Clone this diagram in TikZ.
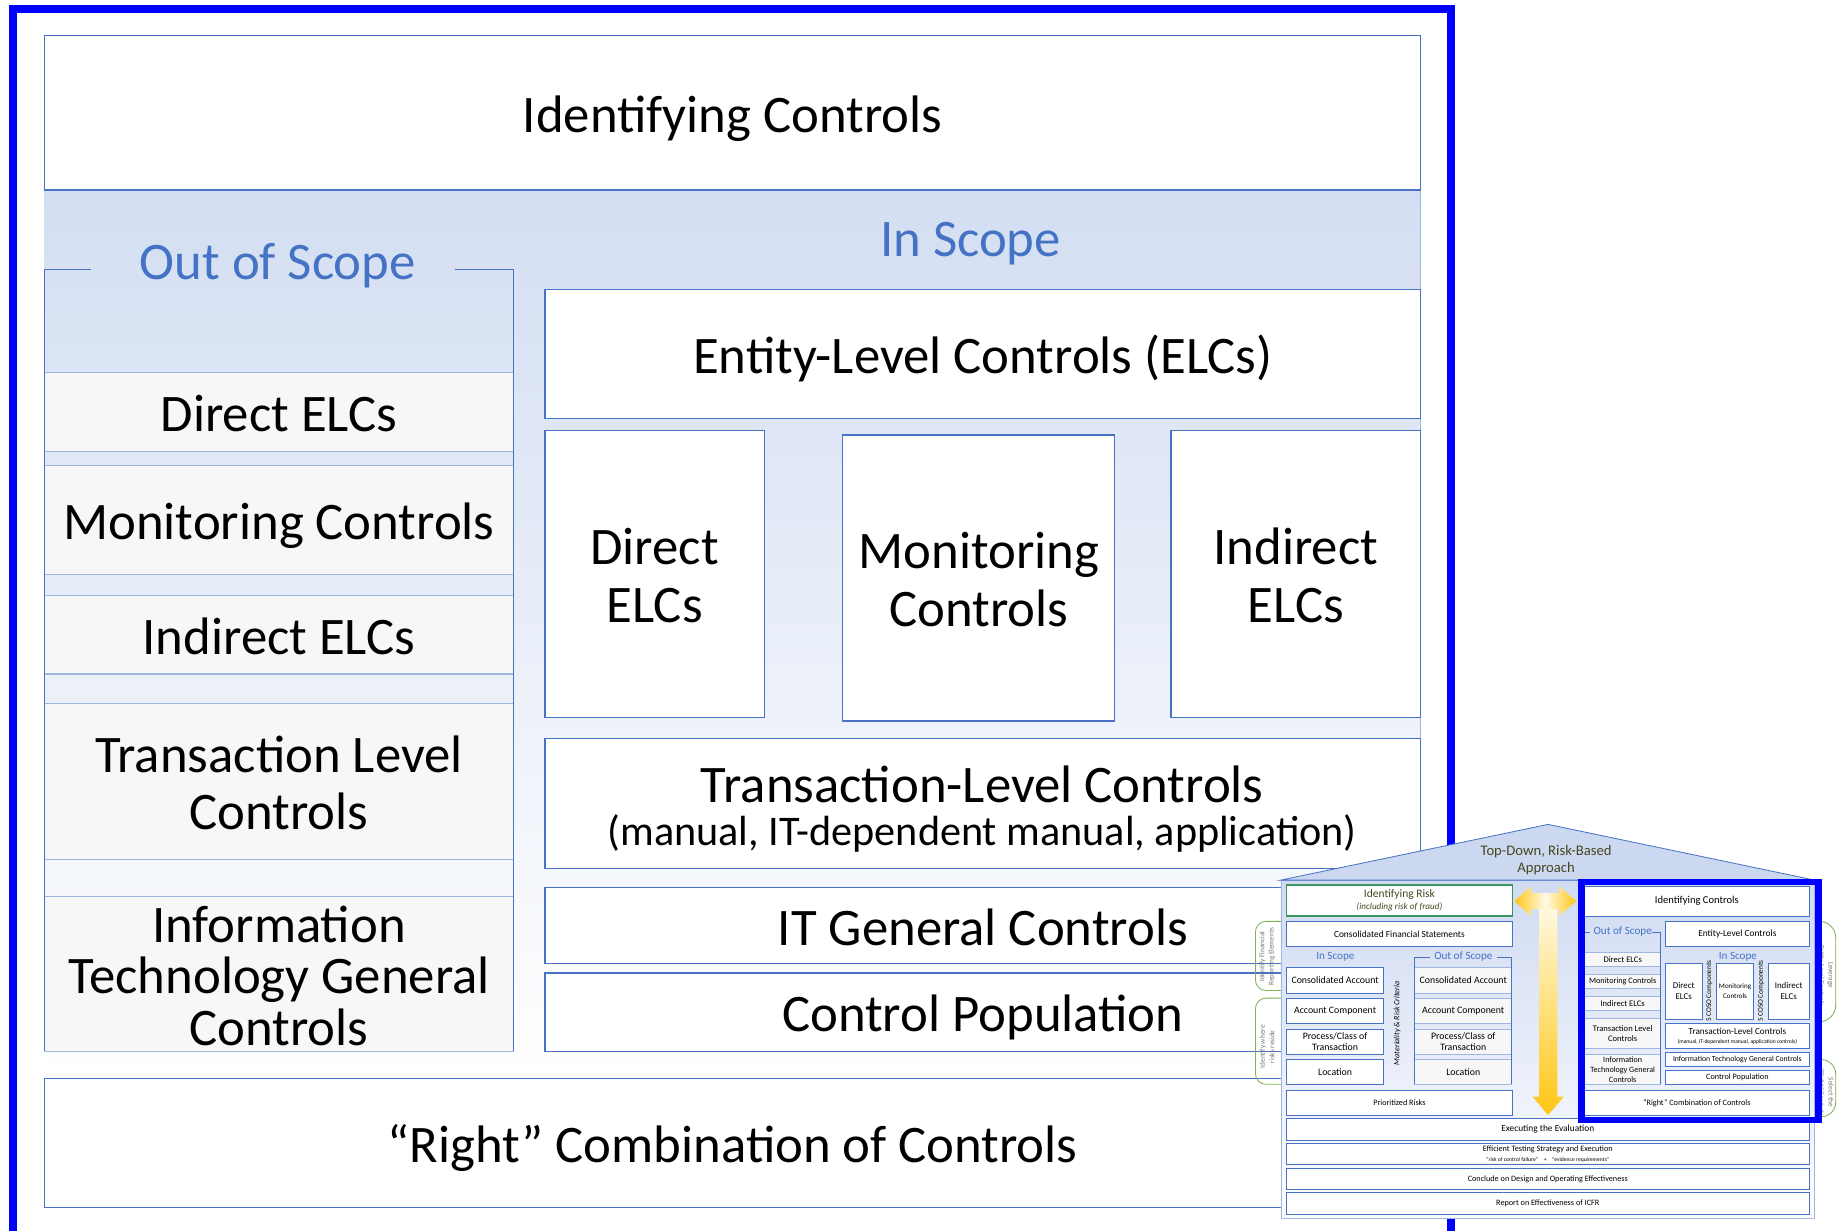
\documentclass[tikz,border=0pt]{standalone}
\usepackage{fontspec}
\setmainfont{Carlito}

\definecolor{frameblue}{RGB}{0,0,255}
\definecolor{edge}{RGB}{72,114,196}
\definecolor{edgelight}{RGB}{160,182,226}
\definecolor{band}{RGB}{211,222,242}
\definecolor{scopeblue}{RGB}{68,114,196}
\definecolor{outfill}{RGB}{247,247,247}
\definecolor{olive}{RGB}{72,70,32}
\definecolor{riskgreen}{RGB}{60,150,95}
\definecolor{bracketgreen}{RGB}{125,178,80}
\definecolor{gold}{RGB}{255,198,20}
\definecolor{pale}{RGB}{255,250,228}
\definecolor{roof}{RGB}{203,216,240}
\definecolor{housetop}{RGB}{208,219,242}
\definecolor{notegray}{RGB}{120,120,120}

% struts that set where the text sits inside its box:
% \sx for a single line, \sxt on the first and \sxb on the last of several lines
\newcommand\sx{\rule[-.25em]{0pt}{1.245em}}
\newcommand\sxt{\rule{0pt}{0.995em}}
\newcommand\sxb{\rule[-.25em]{0pt}{.25em}}
\newcommand\bigf{\fontsize{45}{49}\selectfont}

% \bx{name}{x1}{y1}{x2}{y2}{style}{text}: a box node spanning two corners
\newcommand\bx[7]{%
  \pgfmathsetmacro\bxcx{(#2+#4)/2}%
  \pgfmathsetmacro\bxcy{(#3+#5)/2}%
  \pgfmathsetmacro\bxw{#4-#2}%
  \pgfmathsetmacro\bxh{#5-#3}%
  \node[#6, minimum width=\bxw pt, minimum height=\bxh pt] (#1) at (\bxcx,\bxcy) {#7};}

\tikzset{
  box/.style={draw=edge, line width=1.1pt, fill=white, inner sep=0pt, outer sep=0pt,
    align=center, font=\bigf},
  outbox/.style={box, draw=edgelight, fill=outfill},
  lbl/.style={inner sep=0pt, text=scopeblue, font=\bigf},
  txt/.style={inner sep=0pt, align=center, font=\bigf},
  bracket/.style={draw=edge, line width=1.1pt},
  ibox/.style={draw=edge, line width=0.7pt, fill=white, inner sep=0pt, outer sep=0pt,
    align=center, font=\fontsize{7}{8.8}\selectfont},
  iout/.style={ibox, draw=edgelight, fill=outfill},
  acct/.style={font=\fontsize{8.4}{9.4}\selectfont},
  ilbl/.style={inner sep=0pt, text=scopeblue, font=\fontsize{9.5}{10}\selectfont},
  ibracket/.style={draw=edge, line width=0.7pt},
  note/.style={inner sep=0pt, text=notegray, align=center, font=\fontsize{6.2}{8}\selectfont},
  gbrace/.style={draw=bracketgreen, line width=0.7pt, rounded corners=9pt},
}

\begin{document}
\begin{tikzpicture}[x=1pt,y=-1pt]
\useasboundingbox (0,0) rectangle (1568,1050);
\clip (0,0) rectangle (1568,1050);
\fill[white] (0,0) rectangle (1568,1050);

% ---------- main diagram ----------
\shade[top color=band, bottom color=white] (38,162) rectangle (1212,920);
\draw[edgelight, line width=0.6pt] (1212,162) -- (1212,920);

\bx{idc}{38}{30}{1212}{162}{box}{\sx Identifying Controls}

% out of scope column
\node[lbl] (oos) at (237,222) {\sx Out of Scope};
\bx{o1}{38}{318}{438}{385}{outbox}{\sx Direct ELCs}
\bx{o2}{38}{397}{438}{490}{outbox}{\sx Monitoring Controls}
\bx{o3}{38}{508}{438}{575}{outbox}{\sx Indirect ELCs}
\bx{o4}{38}{600}{438}{733}{outbox}{\sxt Transaction Level\\Controls\sxb}
\bx{o5}{38}{765}{438}{897}{outbox}{}
\node[txt, font=\fontsize{45}{44}\selectfont] (o5t) at (238,831) {\sxt Information\\Technology General\\Controls\sxb};
\coordinate (oosL) at (78,230);
\coordinate (oosR) at (388,230);
\draw[bracket] (oosL) -- (38,230) -- (38,897);
\draw[bracket] (oosR) -- (438,230) -- (438,897);

% in scope
\node[lbl] (ins) at (828,202) {\sx In Scope};
\bx{elc}{465}{247}{1212}{357}{box}{\sx Entity-Level Controls (ELCs)}
\bx{i1}{465}{367}{652}{612}{box}{\sxt Direct\\ELCs\sxb}
\bx{i2}{719}{371}{951}{615}{box}{\sxt Monitoring\\Controls\sxb}
\bx{i3}{999}{367}{1212}{612}{box}{\sxt Indirect\\ELCs\sxb}
\bx{tlc}{465}{630}{1212}{741}{box}{}
\node[txt] (tlca) at (838,668) {\sx Transaction-Level Controls};
\node[txt, font=\fontsize{36}{40}\selectfont] (tlcb) at (838,708) {\sx (manual, IT-dependent manual, application)};
\bx{itg}{465}{757}{1212}{822}{box}{\sx IT General Controls}
\bx{cp}{465}{830}{1212}{897}{box}{\sx Control Population}
\bx{rc}{38}{920}{1212}{1030}{box}{\sx “Right” Combination of Controls}

% highlight frame
\draw[frameblue, line width=7pt] (11,1060) -- (11,7.5) -- (1237.5,7.5) -- (1237.5,1060);

% ---------- small overview of the whole approach ----------
% side braces
\draw[gbrace] (1093,786) -- (1071,786) -- (1071,845) -- (1093,845);
\draw[gbrace] (1093,851.5) -- (1071,851.5) -- (1071,925) -- (1093,925);
\node[note, rotate=90] (nl1) at (1081,816) {Identify Financial\\Reporting Elements};
\node[note, rotate=90] (nl2) at (1081,893) {Identify where\\risks reside};
\draw[gbrace, rounded corners=14pt] (1548,786) -- (1566,786) -- (1566,871.6) -- (1548,871.6);
\draw[gbrace, rounded corners=12pt] (1548,904) -- (1566,904) -- (1566,952.6) -- (1548,952.6);
\node[note, rotate=-90] (nr1) at (1557.5,832) {Leverage\\Entity-Level Controls};
\node[note, rotate=-90] (nr2) at (1557.5,932) {Select the\\“Right” Controls};

% house body and roof
\shade[top color=housetop, bottom color=white!96!housetop] (1092.7,750.8) rectangle (1548,1039.4);
\draw[edgelight, line width=0.6pt] (1092.7,750.8) rectangle (1548,1039.4);
\filldraw[fill=roof, draw=edge, line width=0.7pt] (1092.7,750.8) -- (1320.7,703.3) -- (1548,750.8) -- cycle;
\node[inner sep=0pt, align=center, text=olive, font=\fontsize{12.5}{14.5}\selectfont] (roofT) at (1319,733.5) {Top-Down, Risk-Based\\Approach};

% golden arrows
\shade[top color=pale, bottom color=gold] (1313,769) -- (1328.5,769) -- (1328.5,935.6) -- (1334,935.6)
  -- (1320.7,951.3) -- (1307.4,935.6) -- (1313,935.6) -- cycle;
\shade[left color=gold, right color=gold, middle color=pale] (1291.9,768.7) -- (1306,755.9) -- (1306,762)
  -- (1330,762) -- (1330,755.9) -- (1344.6,768.7) -- (1330,781.5) -- (1330,775.4) -- (1306,775.4)
  -- (1306,781.5) -- cycle;

% risk side
\bx{ir}{1097.4}{755}{1290.3}{781.5}{ibox, draw=riskgreen, line width=1pt, text=olive, font=\fontsize{9.8}{10.6}\selectfont}{Identifying Risk\\{\fontsize{7.8}{10.6}\selectfont\itshape (including risk of fraud)}}
\bx{cfs}{1097.4}{785.7}{1290.3}{807.6}{ibox, font=\fontsize{8}{9}\selectfont}{Consolidated Financial Statements}
\node[ilbl] (iins) at (1139.2,816.2) {In Scope};
\node[ilbl] (ioos) at (1248.4,816.2) {Out of Scope};
\bx{a1}{1097.4}{825.3}{1180.5}{847.5}{ibox, acct}{Consolidated Account}
\bx{a2}{1097.4}{851.7}{1180.5}{873}{ibox, acct}{Account Component}
\bx{a3}{1097.4}{877.9}{1180.5}{899.5}{ibox, acct}{Process/Class of\\Transaction}
\bx{a4}{1097.4}{903.8}{1180.5}{925.1}{ibox, acct}{Location}
\bx{b1}{1206.9}{825.3}{1289.7}{847.5}{iout, acct}{Consolidated Account}
\bx{b2}{1206.9}{851.7}{1289.7}{873}{iout, acct}{Account Component}
\bx{b3}{1206.9}{877.9}{1289.7}{899.5}{iout, acct}{Process/Class of\\Transaction}
\bx{b4}{1206.9}{903.8}{1289.7}{925.1}{iout, acct}{Location}
\coordinate (ioosL) at (1220,816.5);
\coordinate (ioosR) at (1277,816.5);
\draw[ibracket] (ioosL) -- (1206.9,816.5) -- (1206.9,925.1);
\draw[ibracket] (ioosR) -- (1289.7,816.5) -- (1289.7,925.1);
\node[inner sep=0pt, rotate=90, font=\fontsize{6.8}{7}\selectfont\itshape] (mrc) at (1192,873) {Materiality \& Risk Criteria};
\bx{pr}{1097.4}{930}{1290.3}{951.8}{ibox}{Prioritized Risks}

% controls side
\bx{ic}{1351.7}{755.9}{1543.4}{781.5}{ibox, font=\fontsize{9}{10}\selectfont}{Identifying Controls}
\node[ilbl] (coos) at (1384.3,794.8) {Out of Scope};
\bx{c1}{1351.7}{812.8}{1416.9}{824.7}{iout, font=\fontsize{7.3}{8}\selectfont}{Direct ELCs}
\bx{c2}{1351.7}{831}{1416.9}{843.2}{iout, font=\fontsize{7}{8}\selectfont}{Monitoring Controls}
\bx{c3}{1351.7}{849.7}{1416.9}{862.2}{iout, font=\fontsize{7.3}{8}\selectfont}{Indirect ELCs}
\bx{c4}{1351.7}{868.8}{1416.9}{894.4}{iout, font=\fontsize{7.3}{9}\selectfont}{Transaction Level\\Controls}
\bx{c5}{1351.7}{899.5}{1416.9}{925.1}{iout, font=\fontsize{6.9}{8.6}\selectfont}{Information\\Technology General\\Controls}
\coordinate (coosL) at (1356.4,795);
\coordinate (coosR) at (1409,795);
\draw[ibracket] (coosL) -- (1351.7,795);
\draw[ibracket] (coosR) -- (1416.9,795) -- (1416.9,925.1);
\bx{celc}{1420.9}{786.3}{1543.4}{807.6}{ibox, font=\fontsize{8}{9}\selectfont}{Entity-Level Controls}
\node[ilbl] (cins) at (1482.6,816.2) {In Scope};
\bx{d1}{1420.9}{821.9}{1451.9}{869.4}{ibox, font=\fontsize{7.6}{9.4}\selectfont}{Direct\\ELCs}
\bx{d2}{1464.3}{821.9}{1496}{869.4}{ibox, font=\fontsize{6}{8}\selectfont}{Monitoring\\Controls}
\bx{d3}{1508.4}{821.9}{1543.4}{869.4}{ibox, font=\fontsize{7.6}{9.4}\selectfont}{Indirect\\ELCs}
\node[inner sep=0pt, rotate=90, font=\fontsize{6.2}{7}\selectfont] (coso1) at (1458.3,845.5) {5 COSO Components};
\node[inner sep=0pt, rotate=90, font=\fontsize{6.2}{7}\selectfont] (coso2) at (1502.3,845.5) {5 COSO Components};
\bx{ctlc}{1420.9}{873}{1543.4}{894.4}{ibox, font=\fontsize{7.8}{8}\selectfont}{Transaction-Level Controls\\[-0.5pt]{\fontsize{4.8}{8}\selectfont(manual, IT-dependent manual, application controls)}}
\bx{citg}{1420.9}{897.8}{1543.4}{909.5}{ibox, font=\fontsize{6.6}{8}\selectfont}{Information Technology General Controls}
\bx{ccp}{1420.9}{912.9}{1543.4}{925.1}{ibox}{Control Population}
\bx{crc}{1351.7}{930}{1543.4}{951.8}{ibox}{“Right” Combination of Controls}

% evaluation rows
\bx{ev}{1097.4}{954.1}{1543.4}{972.6}{ibox, font=\fontsize{8}{8.8}\selectfont}{Executing the Evaluation}
\bx{ets}{1097.4}{975.4}{1543.4}{993.4}{ibox, font=\fontsize{7}{8}\selectfont}{Efficient Testing Strategy and Execution\\{\fontsize{4.8}{8}\selectfont“risk of control failure”\quad+\quad“evidence requirements”}}
\bx{cde}{1097.4}{996.8}{1543.4}{1014.7}{ibox}{Conclude on Design and Operating Effectiveness}
\bx{rep}{1097.4}{1017.5}{1543.4}{1035.7}{ibox}{Report on Effectiveness of ICFR}

% selection frame around the controls side
\draw[frameblue, line width=5.5pt] (1349,752.5) rectangle (1551.5,955.5);
\end{tikzpicture}
\end{document}
